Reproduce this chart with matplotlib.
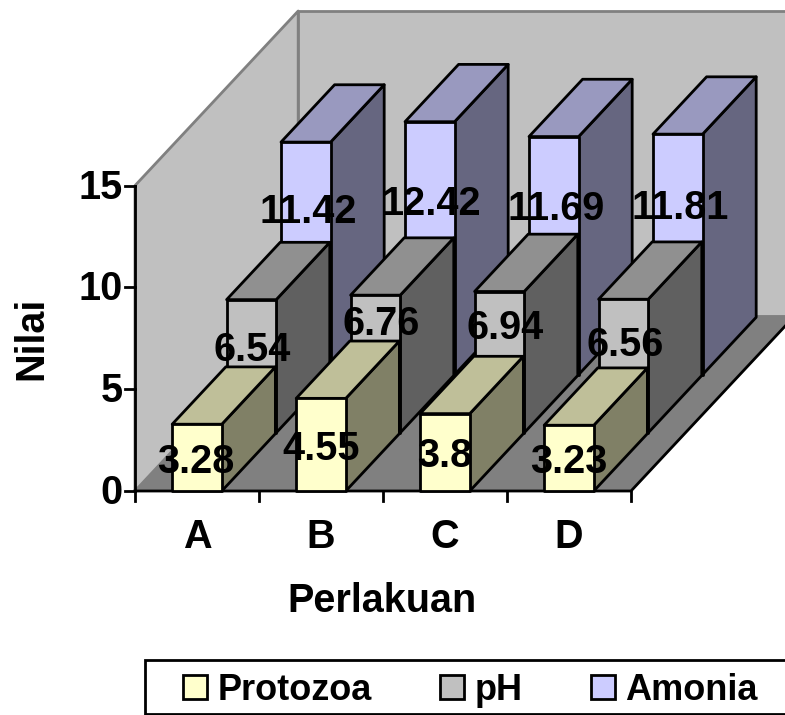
import matplotlib
matplotlib.use("Agg")
import matplotlib.pyplot as plt
from matplotlib.patches import Polygon, Patch, Rectangle

categories = ["A", "B", "C", "D"]
series_names = ["Protozoa", "pH", "Amonia"]
protozoa = [3.28, 4.55, 3.8, 3.23]
ph = [6.54, 6.76, 6.94, 6.56]
amonia = [11.42, 12.42, 11.69, 11.81]
value_labels = [["3.28", "4.55", "3.8", "3.23"],
                ["6.54", "6.76", "6.94", "6.56"],
                ["11.42", "12.42", "11.69", "11.81"]]
y_ticks = [0, 5, 10, 15]

W, H = 785, 715
X0, Y0 = 135, 491          # pixel of category-axis origin
PX_X, PX_Y = 124.0, 20.36  # pixels per category / per value unit
DX, DY = 54.4, 58.2        # pixels per series of depth
BAR_L, BAR_R = 0.30, 0.70
BAR_D = 0.985

front_c = ["#FFFFCC", "#C0C0C0", "#CCCCFF"]
top_c = ["#BFBF99", "#909090", "#9999BF"]
side_c = ["#808066", "#606060", "#666680"]
FS = 28.5
LW = 2.0
BOLD = dict(family=["Liberation Sans", "DejaVu Sans"], fontweight="bold", color="black")

# label nudges in pixels (right, up) relative to the middle of each front face
nudge_pr = [(-1, 0), (0, 0), (0, 0), (0, 0)]
nudge_ph = [(1, 20), (6, 44), (6, 38), (2, 25)]
nudge_am = [(2, 50), (2, 48), (2, 51), (2, 50)]

fig = plt.figure(figsize=(W / 100, H / 100), dpi=100)
ax = fig.add_axes([0, 0, 1, 1])
ax.set_xlim(-X0 / PX_X, (W - X0) / PX_X)
ax.set_ylim(-(H - Y0) / PX_Y, Y0 / PX_Y)
ax.axis("off")


def pt(x, y, d=0.0):
    """Oblique projection: category x, value y, depth d (in series)."""
    return (x + d * DX / PX_X, y + d * DY / PX_Y)


def face(points, fc, ec="black", lw=LW, z=1):
    ax.add_patch(Polygon(points, closed=True, fc=fc, ec=ec, lw=lw, zorder=z, joinstyle="round"))


n = len(categories)
depth = len(series_names)
wall_top = y_ticks[-1]

# walls and floor
face([pt(0, 0), pt(0, wall_top), pt(0, wall_top, depth), pt(0, 0, depth)], "#C0C0C0", "#808080", LW, 1)
face([pt(0, 0, depth), pt(0, wall_top, depth), pt(n, wall_top, depth), pt(n, 0, depth)], "#C0C0C0", "#808080", LW, 1)
face([pt(0, 0), pt(n, 0), pt(n, 0, depth), pt(0, 0, depth)], "#808080", "#808080", 1.0, 2)
ax.plot(*zip(pt(n, 0, depth), pt(n, 0), pt(0, 0)), color="black", lw=LW, zorder=3)
ax.plot(*zip(pt(0, 0), pt(0, wall_top)), color="black", lw=LW, zorder=3)

# bars, back to front
data = [protozoa, ph, amonia]
z = 5
for s in [2, 1, 0]:
    for c in range(n):
        v = data[s][c]
        l, r = c + BAR_L, c + BAR_R
        d0, d1 = s, s + BAR_D
        face([pt(r, 0, d0), pt(r, 0, d1), pt(r, v, d1), pt(r, v, d0)], side_c[s], z=z)
        face([pt(l, v, d0), pt(r, v, d0), pt(r, v, d1), pt(l, v, d1)], top_c[s], z=z)
        face([pt(l, 0, d0), pt(r, 0, d0), pt(r, v, d0), pt(l, v, d0)], front_c[s], z=z)
        z += 1

# value labels
nudges = [nudge_pr, nudge_ph, nudge_am]
for s in range(depth):
    for c in range(n):
        cx, cy = pt(c + 0.5, data[s][c] / 2, s)
        nx, ny = nudges[s][c]
        ax.text(cx + nx / PX_X, cy + ny / PX_Y, value_labels[s][c], ha="center", va="center_baseline",
                fontsize=FS, zorder=50, **BOLD)

# ticks
for t in y_ticks:
    ax.plot([-10 / PX_X, 0], [t, t], color="black", lw=LW, zorder=3)
    ax.text(-12 / PX_X, t + 2 / PX_Y, str(t), ha="right", va="center_baseline", fontsize=FS, **BOLD)
for i in range(n + 1):
    ax.plot([i, i], [0, -10 / PX_Y], color="black", lw=LW, zorder=3)
for i, c in enumerate(categories):
    ax.text(i + 0.5, -42 / PX_Y, c, ha="center", va="center_baseline", fontsize=FS, **BOLD)

ax.text((382 - X0) / PX_X, (Y0 - 597) / PX_Y, "Perlakuan", ha="center", va="center_baseline", fontsize=FS, **BOLD)
ax.text((31 - X0) / PX_X, (Y0 - 338) / PX_Y, "Nilai", rotation=90, ha="center", va="center", fontsize=FS, **BOLD)

# legend: frame runs past the right edge, as in the reference
ax.add_patch(Rectangle(((145 - X0) / PX_X, (Y0 - 714) / PX_Y), 700 / PX_X, 54 / PX_Y,
                       fc="white", ec="black", lw=LW, zorder=59))
handles = [Patch(fc=front_c[i], ec="black", lw=LW, label=series_names[i]) for i in range(depth)]
leg = ax.legend(handles=handles, ncol=3, loc="center left",
                bbox_to_anchor=(183 / W, (H - 690) / H), bbox_transform=fig.transFigure, borderaxespad=0,
                frameon=False,
                prop={"family": "Liberation Sans", "weight": "bold", "size": 26},
                handlelength=0.67, handleheight=0.67, handletextpad=0.28,
                columnspacing=1.9, borderpad=0)
leg.set_zorder(60)

fig.savefig("out.png", dpi=100, facecolor="white")
